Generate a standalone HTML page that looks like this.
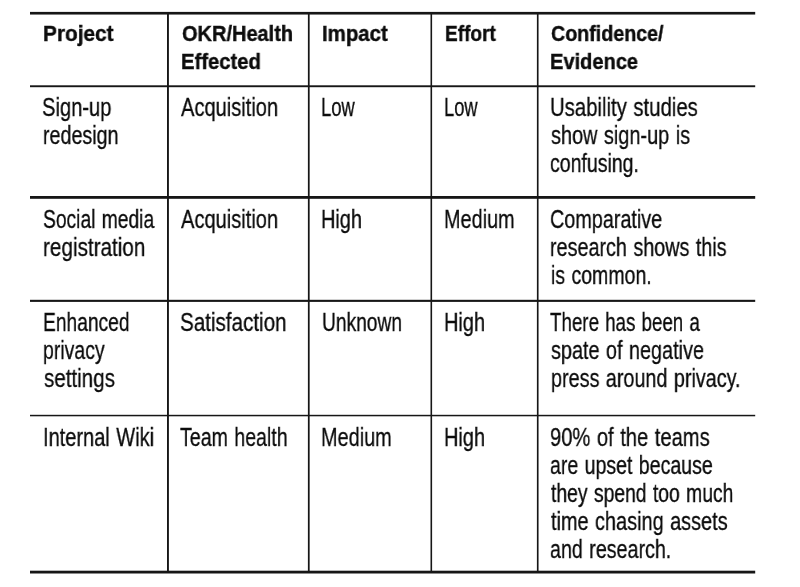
<!DOCTYPE html>
<html lang="en">
<head>
<meta charset="utf-8">
<title>Project prioritization table</title>
<style>
html,body{margin:0;padding:0;background:#fff;}
body{width:800px;height:587px;overflow:hidden;position:relative;font-family:"Liberation Sans",sans-serif;color:#0c0c0c;}
#grid{position:absolute;left:0;top:0;width:800px;height:587px;}
table{border-collapse:collapse;border-spacing:0;margin:0;}
td,th{padding:0;margin:0;font-weight:normal;text-align:left;}
.l{position:absolute;white-space:nowrap;transform-origin:0 0;display:block;font-size:25px;line-height:30px;height:30px;will-change:transform;-webkit-text-stroke:0.3px #0c0c0c;word-spacing:1.2px;}
.b{font-weight:bold;font-size:22.0px;-webkit-text-stroke:0.4px #0c0c0c;word-spacing:0;}
</style>
</head>
<body>
<svg id="grid" width="800" height="587" viewBox="0 0 800 587">
<g fill="#161616">
<rect x="30.00" y="11.90" width="725.20" height="2.65"/>
<rect x="30.00" y="85.30" width="725.20" height="1.90"/>
<rect x="30.00" y="196.00" width="725.20" height="2.80"/>
<rect x="30.00" y="299.80" width="725.20" height="2.10"/>
<rect x="30.00" y="414.80" width="725.20" height="1.50"/>
<rect x="30.00" y="570.70" width="725.20" height="2.80"/>
<rect x="167.00" y="12.00" width="1.90" height="560.00"/>
<rect x="307.90" y="12.00" width="1.75" height="560.00"/>
<rect x="430.50" y="12.00" width="1.60" height="560.00"/>
<rect x="536.90" y="12.00" width="1.65" height="560.00"/>
</g>
</svg>
<table>
<thead>
<tr>
<th><span class="l b" style="left:42.65px;top:19.00px;transform:scaleX(0.9454)">Project</span></th>
<th><span class="l b" style="left:181.80px;top:19.00px;transform:scaleX(0.9089)">OKR/Health</span><span class="l b" style="left:180.88px;top:47.00px;transform:scaleX(0.9211)">Effected</span></th>
<th><span class="l b" style="left:321.57px;top:19.00px;transform:scaleX(0.9280)">Impact</span></th>
<th><span class="l b" style="left:444.73px;top:19.00px;transform:scaleX(0.8675)">Effort</span></th>
<th><span class="l b" style="left:551.20px;top:19.00px;transform:scaleX(0.8936)">Confidence/</span><span class="l b" style="left:550.29px;top:47.00px;transform:scaleX(0.9112)">Evidence</span></th>
</tr>
</thead>
<tbody>
<tr>
<td><span class="l" style="left:42.49px;top:92.00px;transform:scaleX(0.8058)">Sign-up</span><span class="l" style="left:42.81px;top:120.00px;transform:scaleX(0.7873)">redesign</span></td>
<td><span class="l" style="left:180.60px;top:92.00px;transform:scaleX(0.8034)">Acquisition</span></td>
<td><span class="l" style="left:321.23px;top:92.00px;transform:scaleX(0.7343)">Low</span></td>
<td><span class="l" style="left:443.74px;top:92.00px;transform:scaleX(0.7320)">Low</span></td>
<td><span class="l" style="left:549.99px;top:92.00px;transform:scaleX(0.8130)">Usability studies</span><span class="l" style="left:550.80px;top:120.00px;transform:scaleX(0.7962)">show sign-up is</span><span class="l" style="left:550.02px;top:148.00px;transform:scaleX(0.7800)">confusing.</span></td>
</tr>
<tr>
<td><span class="l" style="left:42.53px;top:204.00px;transform:scaleX(0.7701)">Social media</span><span class="l" style="left:42.77px;top:232.00px;transform:scaleX(0.8278)">registration</span></td>
<td><span class="l" style="left:180.60px;top:204.00px;transform:scaleX(0.8034)">Acquisition</span></td>
<td><span class="l" style="left:320.90px;top:204.00px;transform:scaleX(0.7977)">High</span></td>
<td><span class="l" style="left:443.61px;top:204.00px;transform:scaleX(0.7945)">Medium</span></td>
<td><span class="l" style="left:550.01px;top:204.00px;transform:scaleX(0.7917)">Comparative</span><span class="l" style="left:550.01px;top:232.00px;transform:scaleX(0.7907)">research shows this</span><span class="l" style="left:550.82px;top:260.00px;transform:scaleX(0.7806)">is common.</span></td>
</tr>
<tr>
<td><span class="l" style="left:42.86px;top:307.00px;transform:scaleX(0.7685)">Enhanced</span><span class="l" style="left:43.22px;top:335.00px;transform:scaleX(0.7784)">privacy</span><span class="l" style="left:43.50px;top:363.00px;transform:scaleX(0.8230)">settings</span></td>
<td><span class="l" style="left:180.38px;top:307.00px;transform:scaleX(0.8246)">Satisfaction</span></td>
<td><span class="l" style="left:321.73px;top:307.00px;transform:scaleX(0.7682)">Unknown</span></td>
<td><span class="l" style="left:443.60px;top:307.00px;transform:scaleX(0.7998)">High</span></td>
<td><span class="l" style="left:549.60px;top:307.00px;transform:scaleX(0.7507)">There has been a</span><span class="l" style="left:550.80px;top:335.00px;transform:scaleX(0.7931)">spate of negative</span><span class="l" style="left:551.11px;top:363.00px;transform:scaleX(0.7912)">press around privacy.</span></td>
</tr>
<tr>
<td><span class="l" style="left:42.70px;top:422.00px;transform:scaleX(0.8004)">Internal Wiki</span></td>
<td><span class="l" style="left:180.30px;top:422.00px;transform:scaleX(0.7836)">Team health</span></td>
<td><span class="l" style="left:320.91px;top:422.00px;transform:scaleX(0.7957)">Medium</span></td>
<td><span class="l" style="left:443.60px;top:422.00px;transform:scaleX(0.7998)">High</span></td>
<td><span class="l" style="left:549.99px;top:422.00px;transform:scaleX(0.8057)">90% of the teams</span><span class="l" style="left:550.02px;top:450.00px;transform:scaleX(0.7818)">are upset because</span><span class="l" style="left:550.80px;top:478.00px;transform:scaleX(0.7739)">they spend too much</span><span class="l" style="left:550.80px;top:506.00px;transform:scaleX(0.7957)">time chasing assets</span><span class="l" style="left:550.01px;top:534.00px;transform:scaleX(0.7871)">and research.</span></td>
</tr>
</tbody>
</table>
</body>
</html>
